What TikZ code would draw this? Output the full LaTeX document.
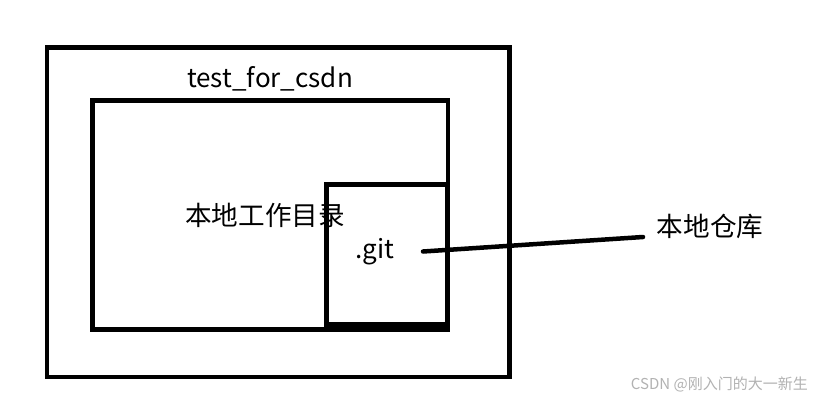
\documentclass[tikz,border=0pt]{standalone}
\usepackage{fontspec}
\setmainfont{Noto Sans CJK SC}
\begin{document}
\begin{tikzpicture}[x=1pt,y=-1pt,
  box/.style={draw=black,line width=4.5pt,fill=none},
  lbl/.style={inner sep=0pt,font=\fontsize{26}{30}\selectfont},
  cjk/.style={inner sep=0pt,font=\fontsize{26.6}{30}\selectfont},
  wm/.style={inner sep=0pt,text=black!30,font=\fontsize{15}{17}\selectfont}]
\useasboundingbox[fill=white] (0,0) rectangle (820,400);
\draw[box] (47,47.5) rectangle (509.5,377);
\draw[box] (92.5,100.5) rectangle (448,329.5);
\draw[box] (326.5,184.5) rectangle (447,324.5);
\node[lbl] (top) at (270,79) {test\_for\_csdn};
\node[cjk] (wd) at (265,215) {本地工作目录};
\node[lbl] (git) at (375,252) {.git};
\node[cjk] (repo) at (710,226) {本地仓库};
\coordinate (a) at (423,251.5);
\coordinate (b) at (643,237);
\draw[line width=4.5pt,line cap=round] (a) -- (b);
\node[wm,anchor=east] (mark) at (808,384) {CSDN @刚入门的大一新生};
\end{tikzpicture}
\end{document}
